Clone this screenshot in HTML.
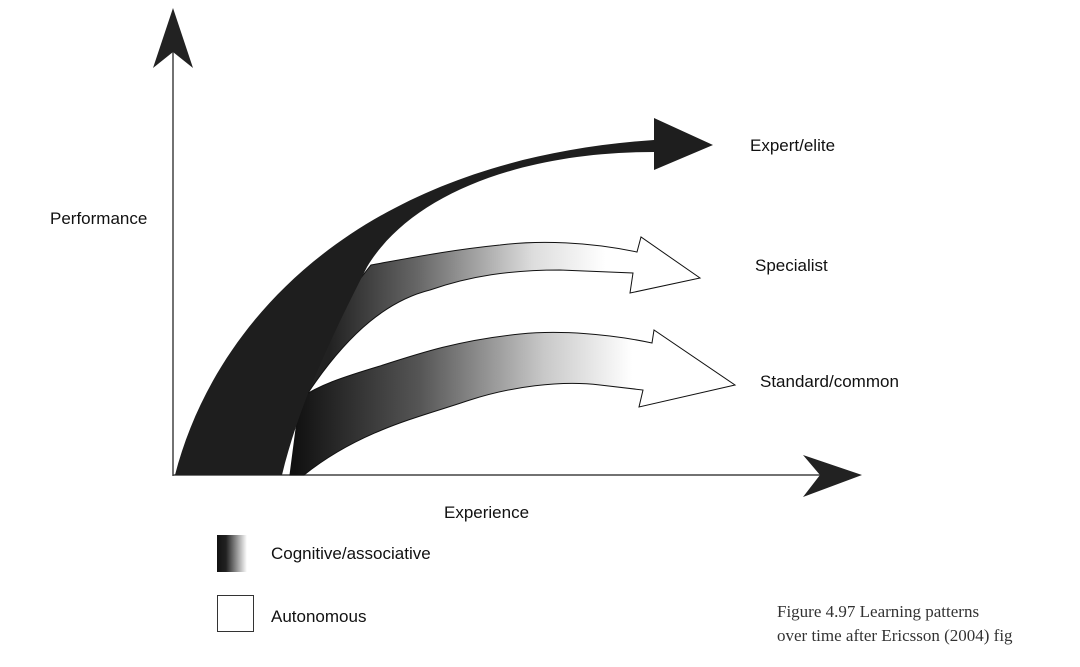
<!DOCTYPE html>
<html><head><meta charset="utf-8"><style>
body{margin:0;background:#fff;}
svg{display:block}
.s{font-family:"Liberation Sans","DejaVu Sans",sans-serif;font-size:17px;fill:#111}
.c{font-family:"Liberation Serif",serif;font-size:17px;fill:#333}
</style></head><body>
<svg width="1080" height="667" viewBox="0 0 1080 667" xmlns="http://www.w3.org/2000/svg">
<defs>
<linearGradient id="g1" gradientUnits="userSpaceOnUse" x1="295" y1="0" x2="650" y2="0">
<stop offset="0" stop-color="#111"/><stop offset="0.35" stop-color="#555"/><stop offset="0.7" stop-color="#c8c8c8"/><stop offset="0.95" stop-color="#fff"/></linearGradient>
<linearGradient id="g2" gradientUnits="userSpaceOnUse" x1="330" y1="0" x2="620" y2="0">
<stop offset="0" stop-color="#222"/><stop offset="0.3" stop-color="#666"/><stop offset="0.7" stop-color="#ddd"/><stop offset="0.95" stop-color="#fff"/></linearGradient>
<linearGradient id="g3" x1="0" y1="0" x2="1" y2="0">
<stop offset="0" stop-color="#111"/><stop offset="0.3" stop-color="#222"/><stop offset="1" stop-color="#fff"/></linearGradient>
</defs>
<line x1="173" y1="50" x2="173" y2="476" stroke="#444" stroke-width="1.5"/>
<polygon points="173,8 193,68 173,52 153,68" fill="#222"/>
<line x1="173" y1="475" x2="830" y2="475" stroke="#444" stroke-width="1.5"/>
<polygon points="862,475 803,497 820,475 803,455" fill="#222"/>
<path d="M304,475 C360,430 420,417 470,400 C510,387 560,380 600,385 L643,390 L639,407 L735,385 L654,330 L652,343 C610,334 560,330 520,334 C460,340 420,353 380,366 C340,378 320,385 300,398 L290,475 Z" fill="url(#g1)" stroke="#111" stroke-width="1"/>
<path d="M308,393 C350,330 390,300 430,290 C470,276 510,270 560,270 L633,273 L630,293 L700,278 L641,237 L637,252 C590,242 540,240 500,245 C450,250 410,258 371,265 L320,330 Z" fill="url(#g2)" stroke="#111" stroke-width="1"/>
<path d="M175,475 C215,320 360,160 654,140 L654,118 L713,145 L654,170 L654,152 C520,152 410,195 367,267 C335,330 300,400 282,475 Z" fill="#1e1e1e"/>
<text class="s" x="750" y="151">Expert/elite</text>
<text class="s" x="755" y="271">Specialist</text>
<text class="s" x="760" y="387">Standard/common</text>
<text class="s" x="50" y="224">Performance</text>
<text class="s" x="444" y="518">Experience</text>
<rect x="217" y="535" width="30" height="37" fill="url(#g3)"/>
<rect x="217.5" y="595.5" width="36" height="36" fill="#fff" stroke="#333" stroke-width="1"/>
<text class="s" x="271" y="559">Cognitive/associative</text>
<text class="s" x="271" y="622">Autonomous</text>
<text class="c" x="777" y="617">Figure 4.97  Learning patterns</text>
<text class="c" x="777" y="641">over time after Ericsson (2004) fig</text>
</svg>
</body></html>
